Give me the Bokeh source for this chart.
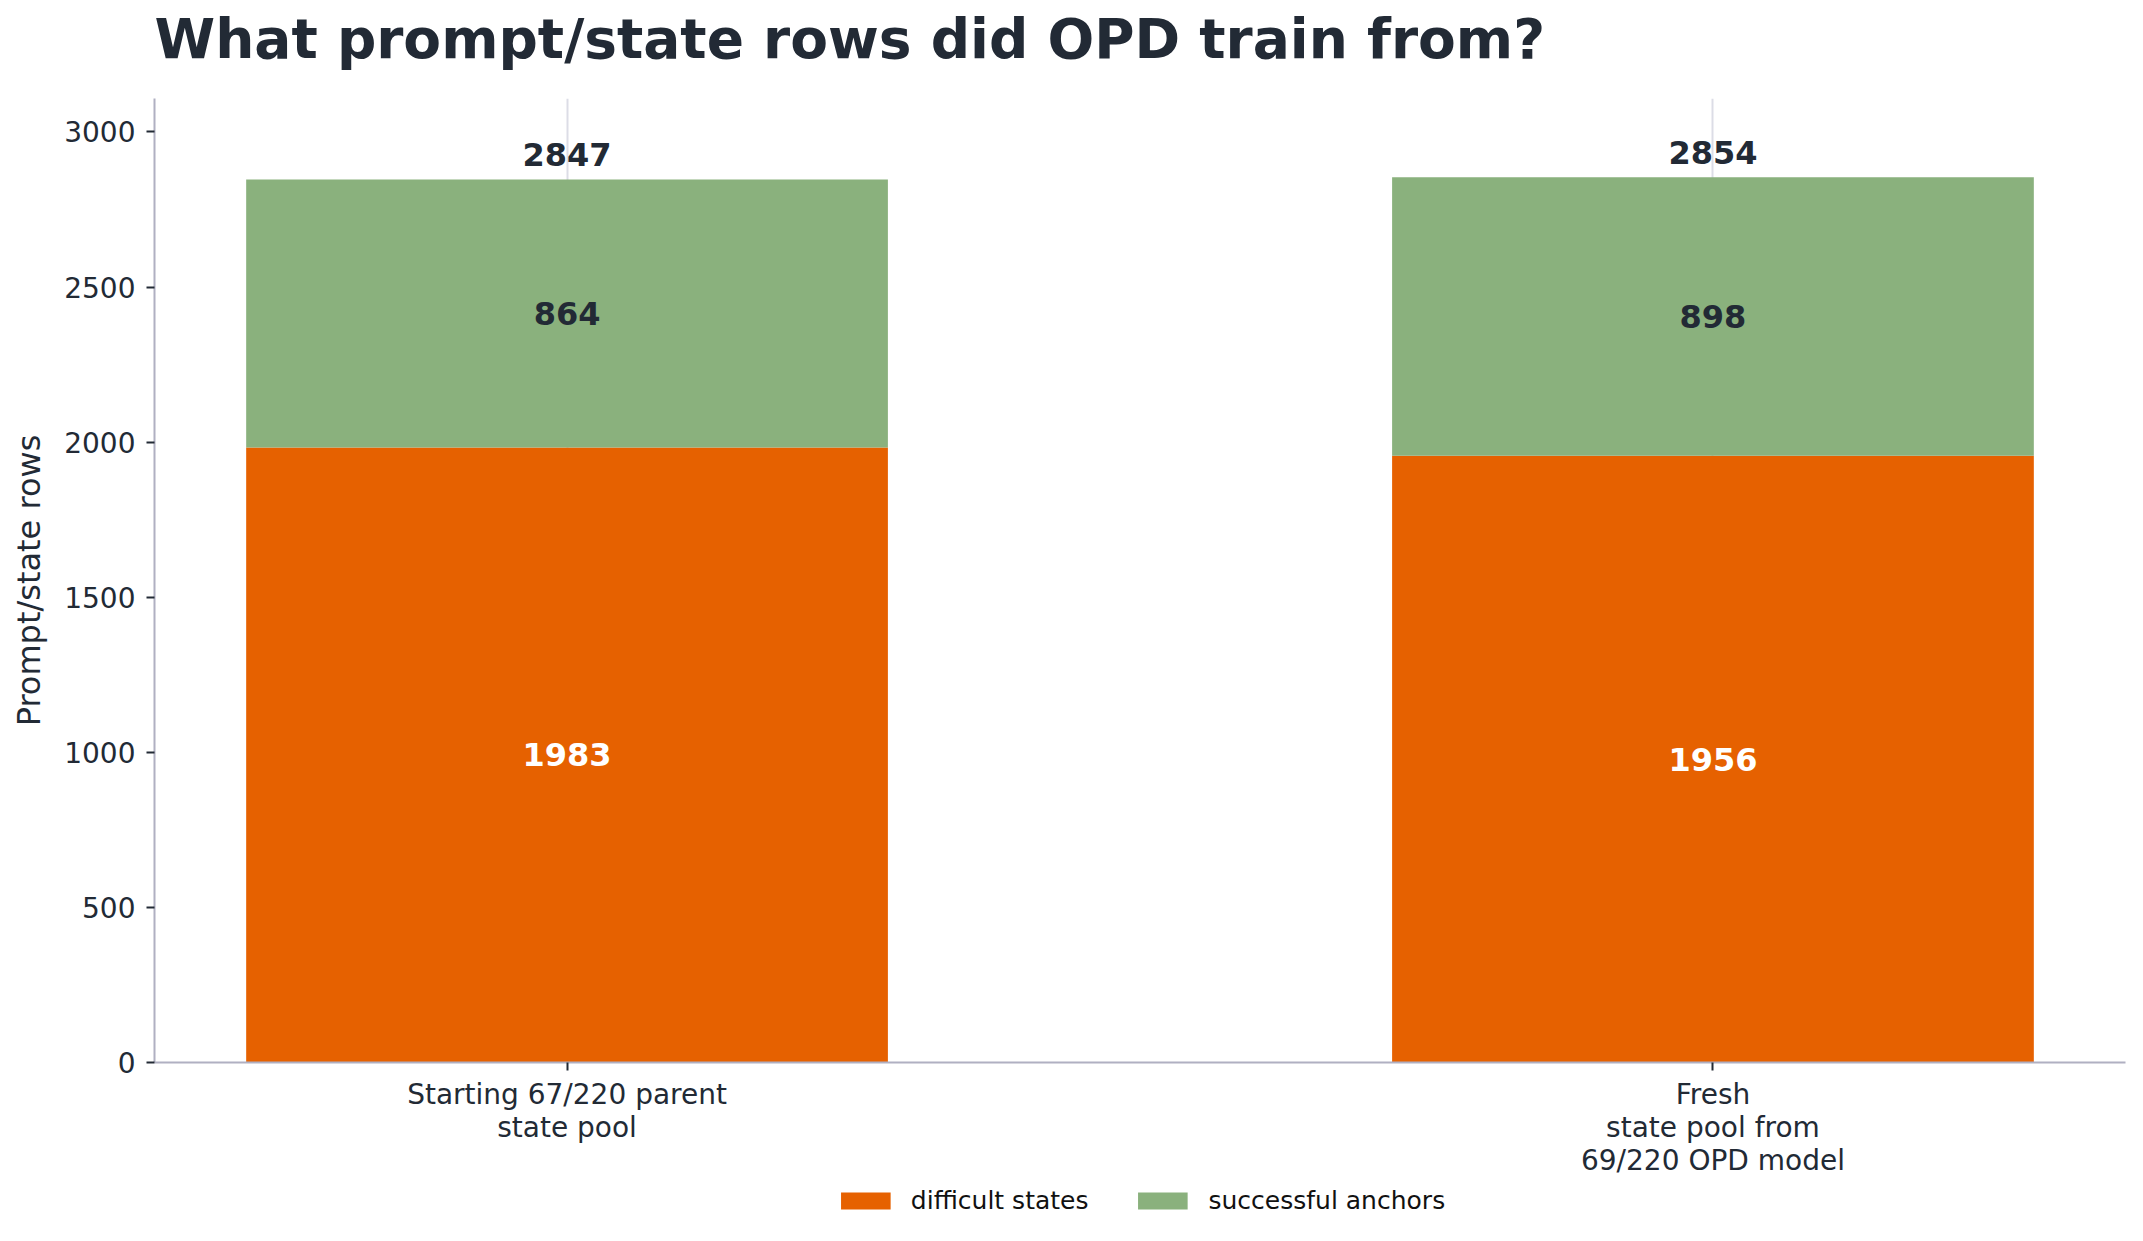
from bokeh.plotting import figure
from bokeh.layouts import column
from bokeh.models import (ColumnDataSource, Legend, LegendItem, FixedTicker,
                          Range1d, LabelSet, Label)
from bokeh.core.properties import value
from bokeh.embed import file_html
from bokeh.resources import INLINE

# Row counts per state pool
pools = ["Starting 67/220 parent\nstate pool", "Fresh\nstate pool from\n69/220 OPD model"]
series = ["difficult states", "successful anchors"]
difficult_states = [1983, 1956]
successful_anchors = [864, 898]
y_ticks = [0, 500, 1000, 1500, 2000, 2500, 3000]
title_text = "What prompt/state rows did OPD train from?"

FONT = "DejaVu Sans"
DARK = "#222a35"
ORANGE = "#e66100"
GREEN = "#8ab17d"
SPINE = "#b0b0c2"
W = 2143
LEFT, RIGHT = 154, 18


def strip(height):
    """A bare figure used to hold text above or below the chart."""
    f = figure(width=W, height=height, output_backend="svg", toolbar_location=None,
               x_axis_type=None, y_axis_type=None, min_border=0,
               min_border_left=LEFT, min_border_right=RIGHT,
               x_range=Range1d(0, 1), y_range=Range1d(0, 1))
    f.outline_line_color = None
    f.grid.visible = False
    return f


xs = list(range(len(pools)))
totals = [d + s for d, s in zip(difficult_states, successful_anchors)]

src = ColumnDataSource(dict(
    x=xs,
    top_d=difficult_states,
    top_t=totals,
    mid_d=[d / 2 for d in difficult_states],
    mid_s=[d + s / 2 for d, s in zip(difficult_states, successful_anchors)],
    lab_d=[str(v) for v in difficult_states],
    lab_s=[str(v) for v in successful_anchors],
    lab_t=[str(v) for v in totals],
))

# heading strip (its frame lines up with the chart frame)
head = strip(98)
head.add_layout(Label(x=0, y=60, x_units="screen", y_units="screen",
                      text=title_text, text_font=FONT, text_font_size="55px",
                      text_font_style="bold", text_color=DARK,
                      text_baseline="alphabetic", text_align="left"))

# main chart
p = figure(frame_width=W - LEFT - RIGHT, frame_height=964, output_backend="svg",
           toolbar_location=None,
           x_range=Range1d(-0.36, 1.36), y_range=Range1d(0, 3108),
           min_border=0, min_border_left=LEFT, min_border_right=RIGHT)
p.outline_line_color = None
p.background_fill_color = "white"
p.border_fill_color = "white"

p.vbar(x="x", width=0.56, bottom=0, top="top_d", source=src,
       fill_color=ORANGE, line_color=None)
p.vbar(x="x", width=0.56, bottom="top_d", top="top_t", source=src,
       fill_color=GREEN, line_color=None)

label_style = dict(source=src, text_align="center", text_baseline="middle",
                   text_font=value(FONT), text_font_size="32px",
                   text_font_style="bold")
p.add_layout(LabelSet(x="x", y="mid_d", text="lab_d", text_color="white", **label_style))
p.add_layout(LabelSet(x="x", y="mid_s", text="lab_s", text_color=DARK, **label_style))
p.add_layout(LabelSet(x="x", y="top_t", text="lab_t", text_color=DARK,
                      y_offset=25, **label_style))

p.xaxis.ticker = FixedTicker(ticks=xs)
p.xaxis.major_label_overrides = {i: lab for i, lab in zip(xs, pools)}
p.yaxis.ticker = FixedTicker(ticks=y_ticks)
p.yaxis.axis_label = "Prompt/state rows"

for ax in (p.xaxis[0], p.yaxis[0]):
    ax.axis_line_color = SPINE
    ax.axis_line_width = 2
    ax.major_tick_line_color = DARK
    ax.major_tick_line_width = 2
    ax.major_tick_out = 8
    ax.major_tick_in = 0
    ax.minor_tick_line_color = None
    ax.major_label_text_font = FONT
    ax.major_label_text_font_size = "28px"
    ax.major_label_text_color = DARK
    ax.axis_label_text_font = FONT
    ax.axis_label_text_font_size = "32px"
    ax.axis_label_text_font_style = "normal"
    ax.axis_label_text_color = DARK

p.yaxis.major_label_standoff = 11
p.yaxis.axis_label_standoff = 13
p.xaxis.major_label_standoff = 7
p.xaxis.major_label_text_line_height = 1.0

p.ygrid.grid_line_color = None
p.xgrid.ticker = FixedTicker(ticks=xs)
p.xgrid.grid_line_color = "#dcdde6"
p.xgrid.grid_line_width = 2

# legend strip
leg = strip(57)
k_d = leg.vbar(x=[-5], bottom=[0], top=[0], width=0.1, fill_color=ORANGE, line_color=None)
k_s = leg.vbar(x=[-5], bottom=[0], top=[0], width=0.1, fill_color=GREEN, line_color=None)
legend = Legend(items=[LegendItem(label=series[0], renderers=[k_d]),
                       LegendItem(label=series[1], renderers=[k_s])],
                orientation="horizontal", location="top_center",
                border_line_color=None, background_fill_alpha=0,
                label_text_font=FONT, label_text_font_size="25px",
                label_text_color="#111111",
                glyph_width=62, glyph_height=21, label_standoff=15,
                spacing=43, padding=4, margin=7)
leg.add_layout(legend, "center")

layout = column(head, p, leg, spacing=0)
open("out.html", "w").write(file_html(layout, INLINE))
